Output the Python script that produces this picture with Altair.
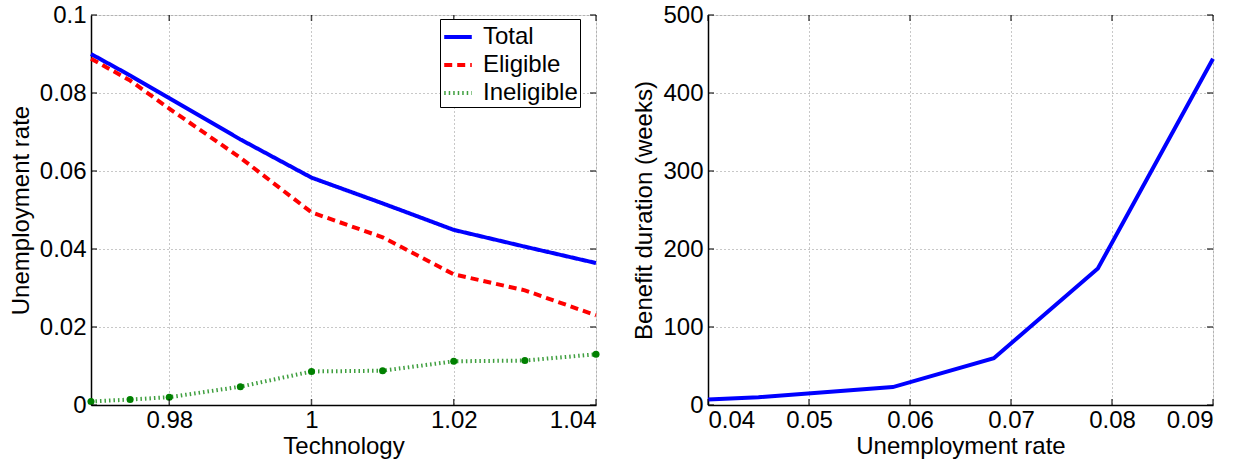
import altair as alt
import pandas as pd

# ---- data ----
technology = [0.969, 0.9745, 0.98, 0.99, 1.00, 1.01, 1.02, 1.03, 1.04]
total = [0.0900, 0.0845, 0.0787, 0.0681, 0.0583, 0.0517, 0.0449, 0.0406, 0.0364]
eligible = [0.0888, 0.0832, 0.0760, 0.0634, 0.0494, 0.0430, 0.0335, 0.0294, 0.0230]
ineligible = [0.0009, 0.0014, 0.0020, 0.0047, 0.0086, 0.0088, 0.0112, 0.0114, 0.0130]
series_names = ["Total", "Eligible", "Ineligible"]

unemp_rate = [0.040, 0.045, 0.0583, 0.0683, 0.0786, 0.090]
benefit_weeks = [7, 10, 23, 60, 175, 444]

left_x_ticks = [0.98, 1.00, 1.02, 1.04]
left_y_ticks = [0, 0.02, 0.04, 0.06, 0.08, 0.1]
right_x_ticks = [0.04, 0.05, 0.06, 0.07, 0.08, 0.09]
right_y_ticks = [0, 100, 200, 300, 400, 500]

FONT = "Liberation Sans"
FS = 24
W, H = 505, 390
TICK = 6

rows = []
for name, vals in zip(series_names, [total, eligible, ineligible]):
    for t, v in zip(technology, vals):
        rows.append({"tech": t, "rate": v, "series": name})
df_left = pd.DataFrame(rows)
df_right = pd.DataFrame({"u": unemp_rate, "weeks": benefit_weeks})

axis_common = dict(
    labelFont=FONT, labelFontSize=FS, titleFont=FONT, titleFontSize=FS,
    titleFontWeight="normal", labelColor="black", titleColor="black",
    gridDash=[1, 3], gridColor="#777777", gridOpacity=0.8, gridWidth=1,
    domainColor="black", domainWidth=1.5, tickSize=0,
)


def inner_ticks(xenc, yenc, xfield, yfield, xvals, yvals):
    """Small inward ticks on all four sides, placed through the chart's scales."""
    dx = pd.DataFrame({xfield: xvals})
    dy = pd.DataFrame({yfield: yvals})
    layers = []
    for ypix in [H - TICK / 2, TICK / 2]:
        layers.append(alt.Chart(dx).mark_tick(color="black", size=TICK, thickness=1.5).encode(
            x=xenc, y=alt.value(ypix)))
    for xpix in [TICK / 2, W - TICK / 2]:
        layers.append(alt.Chart(dy).mark_tick(color="black", size=TICK, thickness=1.5).encode(
            y=yenc, x=alt.value(xpix)))
    return layers


lxs = alt.Scale(domain=[0.969, 1.04], nice=False, zero=False)
lys = alt.Scale(domain=[0, 0.1], nice=False)
lx = alt.X("tech:Q", scale=lxs,
           axis=alt.Axis(title="Technology", values=left_x_ticks, format="~g", labelPadding=3, titlePadding=2,
                         **axis_common))
ly = alt.Y("rate:Q", scale=lys,
           axis=alt.Axis(title="Unemployment rate", values=left_y_ticks, format="~g", labelPadding=5, titlePadding=6,
                         **axis_common))

lines = alt.Chart(df_left).mark_line().encode(
    x=lx, y=ly,
    color=alt.Color("series:N", scale=alt.Scale(domain=series_names, range=["#0000ff", "#ff0000", "#3f9f3f"]),
                    legend=alt.Legend(title=None, orient="none", legendX=349, legendY=4,
                                      fillColor="white", strokeColor="black", padding=2,
                                      symbolType="stroke", symbolSize=760, symbolStrokeWidth=4,
                                      labelFont=FONT, labelFontSize=FS, rowPadding=0, labelOffset=9,
                                      labelColor="black")),
    strokeDash=alt.StrokeDash("series:N", scale=alt.Scale(domain=series_names, range=[[1, 0], [8, 5], [1.5, 3]])),
    strokeWidth=alt.StrokeWidth("series:N", scale=alt.Scale(domain=series_names, range=[4, 4, 2.5]), legend=None),
    order=alt.Order("tech:Q"),
)
dots = alt.Chart(df_left).transform_filter(alt.datum.series == "Ineligible").mark_circle(
    size=50, color="#008000", opacity=1).encode(x=lx, y=ly)

left = alt.layer(lines, dots, *inner_ticks(lx, ly, "tech", "rate", left_x_ticks, left_y_ticks)).properties(
    width=W, height=H)

rxs = alt.Scale(domain=[0.04, 0.09], nice=False, zero=False)
rys = alt.Scale(domain=[0, 500], nice=False)
rx = alt.X("u:Q", scale=rxs,
           axis=alt.Axis(title="Unemployment rate", values=right_x_ticks, format="~g", labelPadding=3, titlePadding=2,
                         **axis_common))
ry = alt.Y("weeks:Q", scale=rys,
           axis=alt.Axis(title="Benefit duration (weeks)", values=right_y_ticks, labelPadding=5, titlePadding=6,
                         **axis_common))
rline = alt.Chart(df_right).mark_line(color="#0000ff", strokeWidth=4).encode(x=rx, y=ry)
right = alt.layer(rline, *inner_ticks(rx, ry, "u", "weeks", right_x_ticks, right_y_ticks)).properties(
    width=W, height=H)

chart = alt.hconcat(left, right, spacing=27).properties(
    padding={"left": 8, "top": 2, "right": 0, "bottom": 0}
).configure_view(stroke="black", strokeWidth=1.5).configure(background="white")

chart.save("out.html", embed_options={"renderer": "svg", "actions": False})
